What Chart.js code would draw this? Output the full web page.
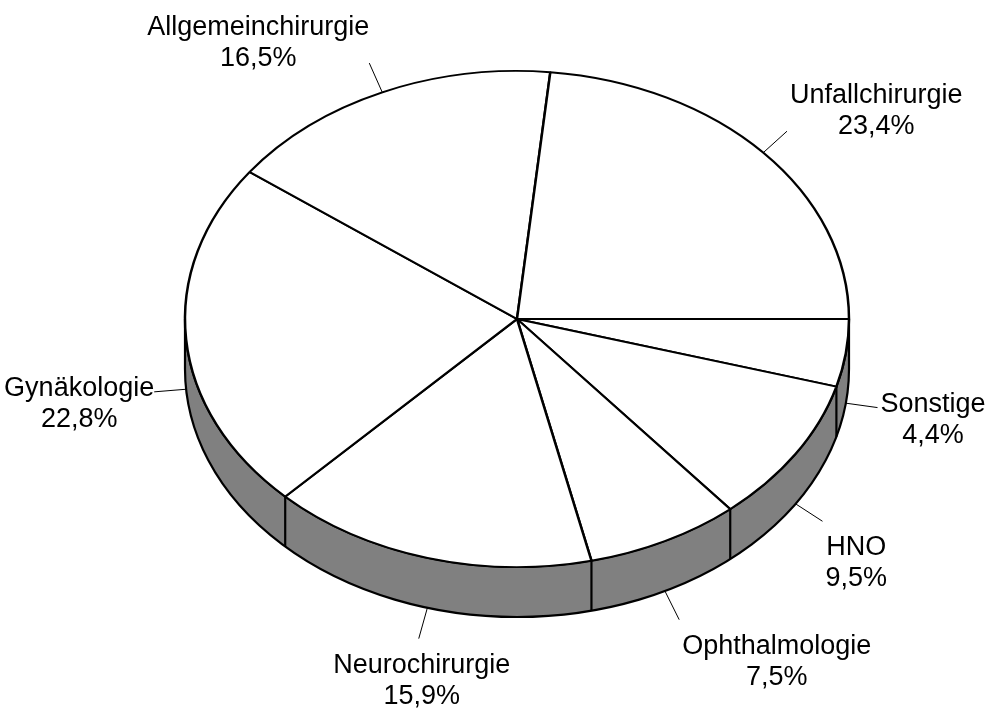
<!DOCTYPE html>
<html>
<head>
<meta charset="utf-8">
<title>Fachrichtungen</title>
<script src="https://cdn.jsdelivr.net/npm/chart.js@4.4.1/dist/chart.umd.min.js"></script>
<style>
  body { margin: 0; background: #fff; }
  #wrap { width: 988px; height: 710px; position: relative; }
</style>
</head>
<body>
<div id="wrap"><canvas id="myChart"></canvas></div>
<script>
// data, clockwise from 3 o'clock
const categories = ['Sonstige', 'HNO', 'Ophthalmologie', 'Neurochirurgie', 'Gynäkologie', 'Allgemeinchirurgie', 'Unfallchirurgie'];
const shares = [4.4, 9.5, 7.5, 15.9, 22.8, 16.5, 23.4];

const TILT = 0.747;   // vertical squash of the pie
const DEPTH = 50;     // height of the grey wall
const FONT = '27px "Liberation Sans", Arial, sans-serif';

function fmt(v) {
    return v.toFixed(1).replace('.', ',') + '%';
}

const pie3d = {
    id: 'pie3d',
    beforeDatasetsDraw: (chart) => {
        const ctx = chart.ctx;
        const arcs = chart.getDatasetMeta(0).data;
        const cx = arcs[0].x, cy = arcs[0].y;
        const rx = arcs[0].outerRadius, ry = rx * TILT;

        // side wall (front half only)
        ctx.save();
        ctx.beginPath();
        ctx.ellipse(cx, cy + DEPTH, rx, ry, 0, 0, Math.PI);
        ctx.lineTo(cx - rx, cy);
        ctx.ellipse(cx, cy, rx, ry, 0, Math.PI, 0, true);
        ctx.closePath();
        ctx.fillStyle = '#808080';
        ctx.fill();
        ctx.lineWidth = 2.2;
        ctx.strokeStyle = '#000';
        ctx.stroke();

        arcs.forEach(a => {
            let t = a.startAngle % (Math.PI * 2);
            if (t < 0) t += Math.PI * 2;
            if (t > 0.001 && t < Math.PI - 0.001) {
                const x = cx + rx * Math.cos(t);
                const y = cy + ry * Math.sin(t);
                ctx.beginPath();
                ctx.moveTo(x, y);
                ctx.lineTo(x, y + DEPTH);
                ctx.stroke();
            }
        });
        ctx.restore();

        // squash the circle into an ellipse
        ctx.save();
        ctx.translate(cx, cy);
        ctx.scale(1, TILT);
        ctx.translate(-cx, -cy);
    },
    afterDatasetsDraw: (chart) => {
        const ctx = chart.ctx;
        ctx.restore();

        const arcs = chart.getDatasetMeta(0).data;
        const cx = arcs[0].x, cy = arcs[0].y;
        const rx = arcs[0].outerRadius, ry = rx * TILT;

        ctx.save();
        ctx.font = FONT;
        ctx.fillStyle = '#000';
        ctx.strokeStyle = '#000';
        ctx.lineWidth = 1;
        ctx.textBaseline = 'alphabetic';
        ctx.textAlign = 'center';

        arcs.forEach((a, i) => {
            const m = (a.startAngle + a.endAngle) / 2;
            const c = Math.cos(m), s = Math.sin(m);
            const ax = cx + rx * c;
            const ay = cy + ry * s + (s > 0 ? DEPTH : 0);
            const ex = ax + 32 * c;
            const ey = ay + 32 * s;

            ctx.beginPath();
            ctx.moveTo(ax, ay);
            ctx.lineTo(ex, ey);
            ctx.stroke();

            const lines = [categories[i], fmt(shares[i])];
            const w = Math.max(...lines.map(l => ctx.measureText(l).width));
            let mid;
            if (c > 0.35) mid = ex + 3 + w / 2;
            else if (c < -0.35) mid = ex - w / 2;
            else mid = ex + 3;

            let base;
            if (s > 0.5) base = ey + 34;
            else if (s < -0.5) base = ey - 28;
            else base = ey + 4;

            ctx.fillText(lines[0], mid, base);
            ctx.fillText(lines[1], mid, base + 31);
        });
        ctx.restore();
    }
};

const data = {
    labels: categories,
    datasets: [{
        data: shares,
        backgroundColor: '#ffffff',
        borderColor: '#000000',
        borderWidth: 2.5,
        radius: 332,
        clip: false
    }]
};

const config = {
    type: 'pie',
    data,
    options: {
        responsive: true,
        maintainAspectRatio: false,
        animation: false,
        rotation: 90,
        layout: {
            padding: { left: 46, bottom: 72 }
        },
        plugins: {
            legend: { display: false },
            tooltip: { enabled: false }
        },
        events: []
    },
    plugins: [pie3d]
};

const myChart = new Chart(document.getElementById('myChart'), config);
</script>
</body>
</html>
